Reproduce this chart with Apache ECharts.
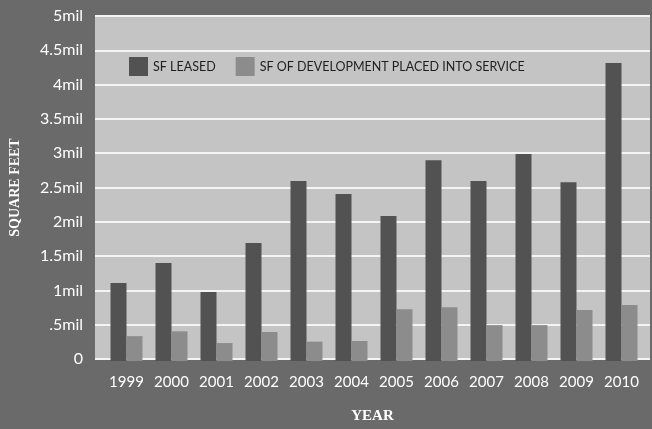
<!DOCTYPE html>
<html>
<head>
<meta charset="utf-8">
<script src="https://cdn.jsdelivr.net/npm/echarts@6/dist/echarts.min.js"></script>
<style>
  html, body { margin: 0; padding: 0; background: #6a6a6a; }
  #main { width: 652px; height: 429px; }
</style>
</head>
<body>
<div id="main"></div>
<script>
const years = ['1999', '2000', '2001', '2002', '2003', '2004', '2005', '2006', '2007', '2008', '2009', '2010'];
const sfLeased = [1130000, 1420000, 1000000, 1710000, 2610000, 2420000, 2100000, 2910000, 2610000, 3000000, 2590000, 4320000];
const sfDevelopment = [360000, 430000, 260000, 420000, 280000, 290000, 750000, 780000, 520000, 520000, 740000, 810000];
const yTicks = { 0: '0', 500000: '.5mil', 1000000: '1mil', 1500000: '1.5mil', 2000000: '2mil', 2500000: '2.5mil',
  3000000: '3mil', 3500000: '3.5mil', 4000000: '4mil', 4500000: '4.5mil', 5000000: '5mil' };

const chart = echarts.init(document.getElementById('main'));

const option = {
  backgroundColor: '#6a6a6a',
  animation: false,
  legend: {
    left: 124,
    top: 52,
    itemWidth: 19,
    itemHeight: 19,
    itemGap: 20,
    icon: 'rect',
    textStyle: { color: '#1e1e1e', fontFamily: 'Lato', fontSize: 12.5 },
    data: ['SF LEASED', 'SF OF DEVELOPMENT PLACED INTO SERVICE']
  },
  grid: [
    { left: 93, right: 2, top: 16, bottom: 68, show: true, backgroundColor: '#c4c4c4', borderWidth: 0 },
    { left: 104, right: 8, top: 16, bottom: 68 }
  ],
  xAxis: [
    {
      gridIndex: 0, type: 'category', data: [''],
      axisLine: { show: false }, axisTick: { show: false }, axisLabel: { show: false },
      name: 'YEAR', nameLocation: 'middle', nameGap: 50,
      nameTextStyle: { color: '#ffffff', fontFamily: 'Liberation Serif', fontWeight: 'bold', fontSize: 15 }
    },
    {
      gridIndex: 1, type: 'category', data: years,
      axisLine: { show: false }, axisTick: { show: false },
      axisLabel: { color: '#ffffff', fontFamily: 'Lato', fontSize: 15, margin: 14, interval: 0 }
    }
  ],
  yAxis: [
    {
      gridIndex: 0, type: 'value', min: 0, max: 5000000, interval: 500000,
      axisLine: { show: false }, axisTick: { show: false },
      axisLabel: { color: '#ffffff', fontFamily: 'Lato', fontSize: 16, margin: 12,
        formatter: function (v) { return yTicks[v]; } },
      splitLine: { lineStyle: { color: '#f4f4f4', width: 2 } },
      name: 'SQUARE FEET', nameLocation: 'middle', nameGap: 73, nameRotate: 90,
      nameTextStyle: { color: '#ffffff', fontFamily: 'Liberation Serif', fontWeight: 'bold', fontSize: 14 }
    },
    {
      gridIndex: 1, type: 'value', min: 0, max: 5000000, interval: 500000, show: false,
      splitLine: { show: false }
    }
  ],
  series: [
    {
      name: 'SF LEASED', type: 'bar', xAxisIndex: 1, yAxisIndex: 1,
      data: sfLeased, barWidth: 16, barGap: '0%',
      itemStyle: { color: '#525252' }
    },
    {
      name: 'SF OF DEVELOPMENT PLACED INTO SERVICE', type: 'bar', xAxisIndex: 1, yAxisIndex: 1,
      data: sfDevelopment, barWidth: 16, barGap: '0%',
      itemStyle: { color: '#8c8c8c' }
    }
  ]
};

chart.setOption(option);
</script>
</body>
</html>
